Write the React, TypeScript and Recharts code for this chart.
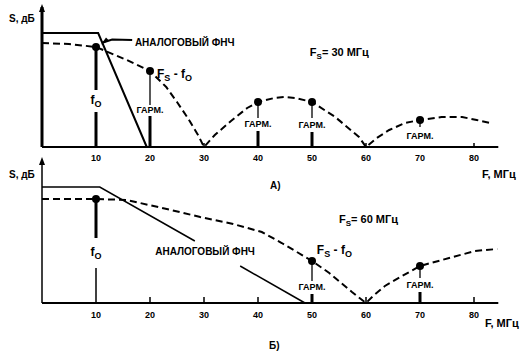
import React from 'react';
import { ComposedChart, Line, XAxis, YAxis, ReferenceLine, ReferenceDot } from 'recharts';

const FONT = '"Liberation Sans", Arial, Helvetica, sans-serif';
const xTicks = [10, 20, 30, 40, 50, 60, 70, 80];

// ---------- Panel A: Fs = 30 MHz ----------
const aSpectrum = [
  { f: 0, s: 104 }, { f: 5, s: 103 }, { f: 10, s: 100 }, { f: 15.7, s: 87 }, { f: 20, s: 76 },
  { f: 23, s: 60 }, { f: 25, s: 45 }, { f: 27, s: 29 }, { f: 29, s: 11 }, { f: 30, s: 0 },
  { f: 32, s: 12 }, { f: 35, s: 26 }, { f: 38, s: 39 }, { f: 40, s: 45 }, { f: 43, s: 49 },
  { f: 45, s: 50 }, { f: 47, s: 49 }, { f: 50, s: 45 }, { f: 54.3, s: 30 }, { f: 58.7, s: 10 },
  { f: 60, s: 0 }, { f: 62, s: 9 }, { f: 64.3, s: 17 }, { f: 67.2, s: 24 }, { f: 70, s: 27 },
  { f: 74, s: 30 }, { f: 77.8, s: 30 }, { f: 80.5, s: 27 }, { f: 83, s: 24 },
];
const aFilter = [{ f: 0, s: 114 }, { f: 10.4, s: 114 }, { f: 19.4, s: 0 }];
const aHarmonics = [{ f: 10, s: 100 }, { f: 20, s: 76 }, { f: 40, s: 45 }, { f: 50, s: 45 }, { f: 70, s: 27 }];
const aPointer = [{ f: 16.7, s: 107 }, { f: 13, s: 107.5 }, { f: 11.3, s: 104.5 }];
const aStems = [
  { f: 10, top: 100, gapTop: 57, gapBottom: 35, upper: 3, lower: 3 },
  { f: 20, top: 76, gapTop: 42, gapBottom: 31, upper: 1.3, lower: 3 },
  { f: 40, top: 45, gapTop: 29, gapBottom: 16, upper: 1.3, lower: 3 },
  { f: 50, top: 45, gapTop: 29, gapBottom: 15, upper: 1.3, lower: 3 },
  { f: 70, top: 27, gapTop: 20, gapBottom: 0, upper: 1.3, lower: 0 },
];
const aTicks = [30, 60, 80];
const aHarmLabels = [{ f: 20, s: 37 }, { f: 40, s: 23 }, { f: 50, s: 22 }, { f: 70, s: 11 }];

// ---------- Panel B: Fs = 60 MHz ----------
const bSpectrum = [
  { f: 0, s: 104 }, { f: 10, s: 104 }, { f: 15.7, s: 103 }, { f: 23.1, s: 94 }, { f: 29.3, s: 86 },
  { f: 35.4, s: 79 }, { f: 40.7, s: 71 }, { f: 44.4, s: 60 }, { f: 46.9, s: 52 }, { f: 50, s: 42 },
  { f: 53.2, s: 30 }, { f: 57.4, s: 11 }, { f: 60, s: 0 }, { f: 61.3, s: 7 }, { f: 63.5, s: 17 },
  { f: 66.7, s: 27 }, { f: 70, s: 37 }, { f: 75.4, s: 45 }, { f: 80.2, s: 52 }, { f: 84.3, s: 54 },
];
const bFilterA = [{ f: 0, s: 116 }, { f: 10.7, s: 116 }, { f: 28.3, s: 62 }];
const bFilterB = [{ f: 36.7, s: 37 }, { f: 48.7, s: 0 }];
const bHarmonics = [{ f: 10, s: 104 }, { f: 50, s: 42 }, { f: 70, s: 37 }];
const bStems = [
  { f: 10, top: 104, gapTop: 65, gapBottom: 35, upper: 3, lower: 1.5 },
  { f: 50, top: 42, gapTop: 22, gapBottom: 9, upper: 1.3, lower: 3 },
  { f: 70, top: 37, gapTop: 25, gapBottom: 11, upper: 1.3, lower: 3 },
];
const bTicks = [20, 30, 40, 60, 80];
const bHarmLabels = [{ f: 50, s: 16 }, { f: 70, s: 18 }];

const W = 524;

const txt = (content: React.ReactNode, anchor: 'start' | 'middle' | 'end', size: number) =>
  (p: any) => (
    <text x={p.cx} y={p.cy} dy="0.35em" textAnchor={anchor} fontSize={size}
      fontWeight="bold" fontFamily={FONT} fill="#000">{content}</text>
  );

const fsMinusFo = (
  <>
    <tspan fontSize={12}>F</tspan>
    <tspan fontSize={9} dy={3}>S</tspan>
    <tspan fontSize={12} dy={-3}> - f</tspan>
    <tspan fontSize={9} dy={3}>O</tspan>
  </>
);
const fo = (
  <>
    <tspan fontSize={12}>f</tspan>
    <tspan fontSize={9} dy={3}>O</tspan>
  </>
);
const fsEq = (v: string) => (
  <>
    <tspan fontSize={11}>F</tspan>
    <tspan fontSize={8} dy={3}>S</tspan>
    <tspan fontSize={11} dy={-3}>{`= ${v} МГц`}</tspan>
  </>
);

const arrowUp = (p: any) => (
  <polygon points={`${p.cx},${p.cy - 3} ${p.cx - 3},${p.cy + 5} ${p.cx + 3},${p.cy + 5}`} fill="#000" />
);
const arrowLeft = (p: any) => (
  <polygon points={`${p.cx - 2},${p.cy + 2} ${p.cx + 6},${p.cy - 2} ${p.cx + 3},${p.cy - 5}`} fill="#000" />
);

function stemLines(stems: typeof aStems) {
  const out: React.ReactNode[] = [];
  stems.forEach((st, i) => {
    out.push(
      <ReferenceLine key={`u${i}`} segment={[{ x: st.f, y: st.top }, { x: st.f, y: st.gapTop }]}
        stroke="#000" strokeWidth={st.upper} />
    );
    if (st.lower > 0) {
      out.push(
        <ReferenceLine key={`l${i}`} segment={[{ x: st.f, y: st.gapBottom }, { x: st.f, y: 0 }]}
          stroke="#000" strokeWidth={st.lower} />
      );
    }
  });
  return out;
}

function tickLines(ticks: number[], h: number) {
  return ticks.map((t, i) => (
    <ReferenceLine key={`t${i}`} segment={[{ x: t, y: h }, { x: t, y: 0 }]} stroke="#000" strokeWidth={1.5} />
  ));
}

const tickStyle = { fill: '#000', fontSize: 9, fontWeight: 'bold', fontFamily: FONT };

export default function App() {
  return (
    <div style={{ position: 'absolute', left: 0, top: 0, width: W, height: 352, background: '#fff', fontFamily: FONT }}>
      {/* Panel A */}
      <div style={{ position: 'absolute', left: 0, top: 0 }}>
        <ComposedChart width={W} height={180} margin={{ top: 7, right: 25.7, bottom: 0, left: 42 }}>
          <XAxis type="number" dataKey="f" domain={[0, 84.5]} ticks={xTicks} height={33}
            axisLine={{ stroke: '#000', strokeWidth: 2 }} tickLine={false} tick={tickStyle}
            tickSize={6} tickMargin={2} interval={0} />
          <YAxis type="number" domain={[0, 140]} hide />
          <ReferenceLine x={0} stroke="#000" strokeWidth={3} />
          <ReferenceDot x={0} y={140} r={0} shape={arrowUp} ifOverflow="visible" />
          {tickLines(aTicks, 4)}
          {stemLines(aStems)}
          <Line data={aFilter} dataKey="s" type="linear" stroke="#000" strokeWidth={2} dot={false} isAnimationActive={false} />
          <Line data={aSpectrum} dataKey="s" type="linear" stroke="#000" strokeWidth={2} strokeDasharray="7 4" dot={false} isAnimationActive={false} />
          <Line data={aPointer} dataKey="s" type="linear" stroke="#000" strokeWidth={2} dot={false} isAnimationActive={false} />
          <ReferenceDot x={11.3} y={104.5} r={0} shape={arrowLeft} ifOverflow="visible" />
          <Line data={aHarmonics} dataKey="s" stroke="none" dot={{ r: 4, fill: '#000', stroke: 'none' }} isAnimationActive={false} />
          <ReferenceDot x={17.2} y={105} r={0} shape={txt('АНАЛОГОВЫЙ ФНЧ', 'start', 10)} ifOverflow="visible" />
          <ReferenceDot x={21.3} y={73} r={0} shape={txt(fsMinusFo, 'start', 12)} ifOverflow="visible" />
          <ReferenceDot x={49.6} y={95} r={0} shape={txt(fsEq('30'), 'start', 11)} ifOverflow="visible" />
          <ReferenceDot x={10} y={47} r={0} shape={txt(fo, 'middle', 12)} ifOverflow="visible" />
          {aHarmLabels.map((l, i) => (
            <ReferenceDot key={`ah${i}`} x={l.f} y={l.s} r={0} shape={txt('ГАРМ.', 'middle', 9)} ifOverflow="visible" />
          ))}
        </ComposedChart>
      </div>
      {/* Panel B */}
      <div style={{ position: 'absolute', left: 0, top: 150 }}>
        <ComposedChart width={W} height={202} margin={{ top: 10, right: 25.7, bottom: 0, left: 42 }}>
          <XAxis type="number" dataKey="f" domain={[0, 84.5]} ticks={xTicks} height={49}
            axisLine={{ stroke: '#000', strokeWidth: 2 }} tickLine={false} tick={tickStyle}
            tickSize={6} tickMargin={3} interval={0} />
          <YAxis type="number" domain={[0, 143]} hide />
          <ReferenceLine x={0} stroke="#000" strokeWidth={1.5} />
          <ReferenceDot x={0} y={143} r={0} shape={arrowUp} ifOverflow="visible" />
          {tickLines(bTicks, 6)}
          {stemLines(bStems)}
          <Line data={bFilterA} dataKey="s" type="linear" stroke="#000" strokeWidth={1.5} dot={false} isAnimationActive={false} />
          <Line data={bFilterB} dataKey="s" type="linear" stroke="#000" strokeWidth={1.5} dot={false} isAnimationActive={false} />
          <Line data={bSpectrum} dataKey="s" type="linear" stroke="#000" strokeWidth={2} strokeDasharray="7 4" dot={false} isAnimationActive={false} />
          <Line data={bHarmonics} dataKey="s" stroke="none" dot={{ r: 4, fill: '#000', stroke: 'none' }} isAnimationActive={false} />
          <ReferenceDot x={30.2} y={52} r={0} shape={txt('АНАЛОГОВЫЙ ФНЧ', 'middle', 10)} ifOverflow="visible" />
          <ReferenceDot x={50.9} y={53} r={0} shape={txt(fsMinusFo, 'start', 12)} ifOverflow="visible" />
          <ReferenceDot x={55} y={84} r={0} shape={txt(fsEq('60'), 'start', 11)} ifOverflow="visible" />
          <ReferenceDot x={10} y={51} r={0} shape={txt(fo, 'middle', 12)} ifOverflow="visible" />
          {bHarmLabels.map((l, i) => (
            <ReferenceDot key={`bh${i}`} x={l.f} y={l.s} r={0} shape={txt('ГАРМ.', 'middle', 9)} ifOverflow="visible" />
          ))}
        </ComposedChart>
      </div>
      {/* Fixed captions */}
      <svg width={W} height={352} style={{ position: 'absolute', left: 0, top: 0, pointerEvents: 'none' }}>
        <g fontFamily={FONT} fontWeight="bold" fill="#000">
          <text x={9} y={22} fontSize={10}>S, дБ</text>
          <text x={9} y={178} fontSize={10}>S, дБ</text>
          <text x={482} y={178} fontSize={11}>F, МГц</text>
          <text x={485} y={327} fontSize={11}>F, МГц</text>
          <text x={270} y={189} fontSize={10}>А)</text>
          <text x={269} y={349} fontSize={10}>Б)</text>
        </g>
      </svg>
    </div>
  );
}
